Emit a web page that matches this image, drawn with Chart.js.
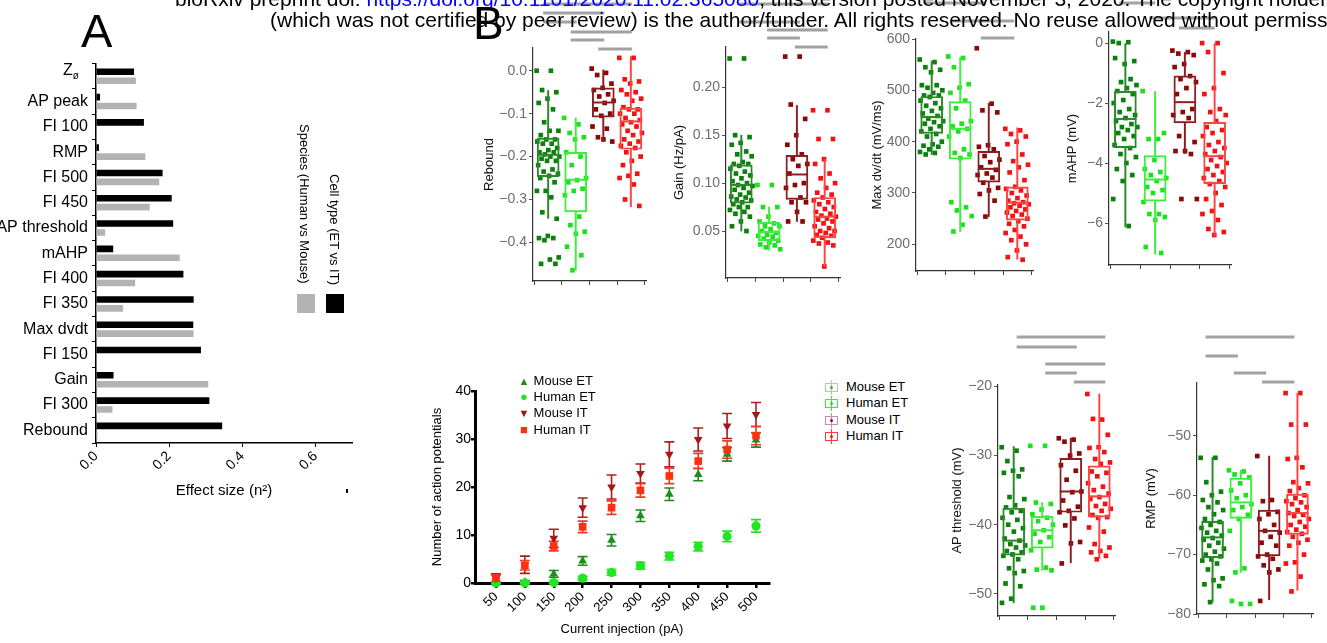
<!DOCTYPE html>
<html>
<head>
<meta charset="utf-8">
<script src="https://cdn.jsdelivr.net/npm/chart.js@4.4.1/dist/chart.umd.min.js"></script>
<style>
  body { margin: 0; background: #fff; }
  #wrap { position: relative; width: 1327px; height: 643px; overflow: hidden; font-family: "Liberation Sans", Arial, sans-serif; color: #000; }
  canvas { position: absolute; }
  .txt { position: absolute; white-space: nowrap; z-index: 5; }
  .hdr { font-size: 21px; line-height: 21px; }
  .lg { position: absolute; font-size: 13px; line-height: 16px; white-space: nowrap; }
  .sym { display: inline-block; width: 12px; text-align: center; margin-right: 0; font-size: 11px; }
  .bx { position: absolute; width: 11px; height: 7px; border: 1px solid; }
  .bx i { position: absolute; left: 4px; top: 2px; width: 3px; height: 3px; border-radius: 2px; }
  .bx b { position: absolute; left: 5px; top: -4px; width: 1px; height: 15px; }
</style>
</head>
<body>
<div id="wrap">
  <div class="txt hdr" style="top:-12px;left:175px">bioRxiv preprint doi: <span style="color:#0000ff">https://doi.org/10.1101/2020.11.02.365080</span>, this version posted November 3, 2020. The copyright holder for this preprint</div>
  <div class="txt hdr" style="top:9px;left:270px">(which was not certified by peer review) is the author/funder. All rights reserved. No reuse allowed without permission.</div>
  <div class="txt" style="left:81px;top:7px;font-size:47px;line-height:47px">A</div>
  <div class="txt" style="left:473px;top:0px;font-size:46px;line-height:46px">B</div>

  <div class="txt" style="left:63px;top:61px;font-size:16px;line-height:18px">Z<sub style="font-size:10px">ø</sub></div>
  <div class="txt" style="left:297px;top:124px;font-size:13px;writing-mode:vertical-rl">Species (Human vs Mouse)</div>
  <div class="txt" style="left:327px;top:174px;font-size:13px;writing-mode:vertical-rl">Cell type (ET vs IT)</div>
  <div class="txt" style="left:297px;top:294px;width:18px;height:19px;background:#b3b3b3"></div>
  <div class="txt" style="left:326px;top:294px;width:18px;height:19px;background:#000"></div>
  <div class="txt" style="left:346px;top:489px;width:2px;height:4px;background:#000"></div>

  <div class="lg" style="left:518px;top:373px"><span class="sym" style="color:#1e8c1e">&#9650;</span> Mouse ET</div>
  <div class="lg" style="left:518px;top:389px"><span class="sym" style="color:#22e622;font-size:13px">&#9679;</span> Human ET</div>
  <div class="lg" style="left:518px;top:405px"><span class="sym" style="color:#a01818">&#9660;</span> Mouse IT</div>
  <div class="lg" style="left:518px;top:422px"><span class="sym" style="color:#ff3010;font-size:13px">&#9632;</span> Human IT</div>

  <div class="bx" style="left:825px;top:383px;border-color:#9fd89f"><b style="background:#9fd89f"></b><i style="background:#3aa83a"></i></div>
  <div class="bx" style="left:825px;top:399px;border-color:#33ee33"><b style="background:#33ee33"></b><i style="background:#22dd22"></i></div>
  <div class="bx" style="left:825px;top:416px;border-color:#c88ab8"><b style="background:#c88ab8"></b><i style="background:#8c0a2a"></i></div>
  <div class="bx" style="left:825px;top:432px;border-color:#ff3a3a"><b style="background:#ff3a3a"></b><i style="background:#ee1010"></i></div>
  <div class="lg" style="left:846px;top:379px">Mouse ET</div>
  <div class="lg" style="left:846px;top:395px">Human ET</div>
  <div class="lg" style="left:846px;top:412px">Mouse IT</div>
  <div class="lg" style="left:846px;top:428px">Human IT</div>
</div>
<script>
Chart.defaults.font.family = "'Liberation Sans', Arial, sans-serif";
Chart.defaults.animation = false;
Chart.defaults.plugins.legend.display = false;
Chart.defaults.plugins.tooltip.enabled = false;

// ---- panel A: effect sizes ----
const effectLabels = ['Zø', 'AP peak', 'FI 100', 'RMP', 'FI 500', 'FI 450', 'AP threshold', 'mAHP',
  'FI 400', 'FI 350', 'Max dvdt', 'FI 150', 'Gain', 'FI 300', 'Rebound'];
const cellTypeEffect = [0.104, 0.011, 0.131, 0.008, 0.182, 0.207, 0.211, 0.047, 0.239, 0.267, 0.266, 0.287, 0.048, 0.310, 0.345];
const speciesEffect = [0.109, 0.111, 0, 0.135, 0.173, 0.147, 0.025, 0.229, 0.107, 0.074, 0.267, 0, 0.307, 0.045, 0.004];
const effectTicks = [0, 0.2, 0.4, 0.6];

// ---- box plots: groups Mouse ET, Human ET, Mouse IT, Human IT ----
const groupNames = ['Mouse ET', 'Human ET', 'Mouse IT', 'Human IT'];
const pointColors = ['#0b800b', '#1fe01f', '#8a0808', '#f21212'];
const boxColors = ['#2a8a2a', '#3cef3c', '#8e1e1e', '#ff4444'];

// stats: [lower whisker, q1, median, q3, upper whisker]
const reboundStats = [[-0.344, -0.247, -0.196, -0.157, -0.046], [-0.465, -0.329, -0.254, -0.19, -0.11],
  [-0.165, -0.108, -0.074, -0.04, 0.002], [-0.317, -0.183, -0.118, -0.087, 0.033]];
const reboundPts = [
  [0.0, 0.0, -0.045, -0.05, -0.065, -0.075, -0.09, -0.12, -0.14, -0.14, -0.15, -0.16, -0.16, -0.165, -0.17, -0.17, -0.18, -0.185, -0.19, -0.19, -0.195, -0.2, -0.2, -0.205, -0.21, -0.21, -0.22, -0.23, -0.235, -0.24, -0.245, -0.25, -0.26, -0.28, -0.28, -0.295, -0.33, -0.345, -0.385, -0.39, -0.39, -0.395, -0.435, -0.44, -0.45, -0.45],
  [-0.11, -0.125, -0.145, -0.155, -0.16, -0.19, -0.2, -0.22, -0.25, -0.255, -0.26, -0.275, -0.28, -0.29, -0.34, -0.36, -0.375, -0.38, -0.41, -0.43, -0.465],
  [0.005, -0.005, -0.01, -0.03, -0.04, -0.045, -0.055, -0.06, -0.07, -0.075, -0.09, -0.1, -0.105, -0.13, -0.135, -0.155, -0.165, -0.16],
  [0.03, 0.03, -0.02, -0.025, -0.03, -0.045, -0.05, -0.055, -0.065, -0.07, -0.085, -0.09, -0.09, -0.1, -0.1, -0.11, -0.115, -0.12, -0.125, -0.13, -0.14, -0.145, -0.15, -0.16, -0.165, -0.17, -0.175, -0.18, -0.19, -0.2, -0.21, -0.22, -0.24, -0.245, -0.25, -0.265, -0.3, -0.315]
];
const reboundTicks = [0, -0.1, -0.2, -0.3, -0.4];
const reboundSig = [[0, 3], [0, 2], [0, 1], [1, 3], [1, 2], [2, 3]];

const gainStats = [[0.050, 0.079, 0.098, 0.119, 0.150], [0.030, 0.040, 0.049, 0.059, 0.075],
  [0.060, 0.083, 0.109, 0.129, 0.181], [0.013, 0.043, 0.065, 0.085, 0.125]];
const gainPts = [
  [0.23, 0.23, 0.15, 0.148, 0.142, 0.14, 0.133, 0.13, 0.128, 0.122, 0.12, 0.12, 0.118, 0.115, 0.112, 0.11, 0.108, 0.105, 0.102, 0.1, 0.098, 0.097, 0.095, 0.093, 0.09, 0.088, 0.086, 0.085, 0.083, 0.082, 0.08, 0.078, 0.075, 0.075, 0.072, 0.07, 0.068, 0.065, 0.06, 0.055, 0.05],
  [0.098, 0.098, 0.075, 0.075, 0.065, 0.06, 0.058, 0.055, 0.055, 0.052, 0.05, 0.048, 0.046, 0.045, 0.044, 0.042, 0.04, 0.038, 0.036, 0.035, 0.033, 0.031],
  [0.232, 0.232, 0.182, 0.167, 0.15, 0.14, 0.13, 0.125, 0.12, 0.118, 0.11, 0.1, 0.098, 0.095, 0.085, 0.08, 0.08, 0.07, 0.06, 0.06],
  [0.176, 0.176, 0.146, 0.146, 0.125, 0.12, 0.11, 0.105, 0.1, 0.095, 0.09, 0.088, 0.085, 0.082, 0.08, 0.078, 0.075, 0.073, 0.07, 0.068, 0.066, 0.065, 0.063, 0.062, 0.06, 0.058, 0.055, 0.053, 0.05, 0.05, 0.048, 0.046, 0.045, 0.043, 0.04, 0.038, 0.037, 0.035, 0.013]
];
const gainTicks = [0.05, 0.10, 0.15, 0.20];
const gainSig = [[0, 3], [0, 2], [1, 3], [1, 2], [2, 3]];

const dvdtStats = [[375, 416, 448, 488, 557], [225, 366, 425, 478, 564], [254, 321, 347, 381, 475], [171, 247, 281, 312, 427]];
const dvdtPts = [
  [560, 555, 545, 540, 535, 510, 510, 505, 500, 495, 490, 490, 487, 480, 475, 470, 465, 460, 455, 450, 445, 440, 438, 435, 430, 425, 420, 415, 410, 400, 395, 392, 390, 385, 380, 378, 375],
  [566, 563, 545, 512, 505, 495, 480, 465, 440, 435, 430, 425, 420, 410, 385, 378, 375, 368, 282, 272, 266, 255, 238, 225],
  [582, 474, 461, 457, 393, 390, 385, 372, 365, 360, 350, 345, 338, 335, 330, 320, 310, 305, 298, 285, 254],
  [425, 422, 415, 410, 400, 395, 375, 362, 355, 350, 340, 325, 312, 308, 305, 300, 295, 290, 285, 282, 280, 278, 275, 272, 268, 265, 262, 258, 255, 250, 245, 240, 235, 228, 222, 215, 208, 200, 188, 175, 170]
];
const dvdtTicks = [200, 300, 400, 500, 600];
const dvdtSig = [[0, 2], [1, 3], [2, 3]];

const mahpStats = [[-6.13, -3.49, -2.53, -1.61, 0], [-7.04, -5.27, -4.55, -3.75, -1.61],
  [-3.68, -2.66, -1.97, -1.09, -0.31], [-6.43, -4.69, -3.77, -2.64, 0]];
const mahpPts = [
  [0.05, 0.03, 0.0, -0.6, -0.7, -0.5, -1.2, -1.3, -1.4, -1.5, -1.6, -1.7, -1.9, -2.0, -2.2, -2.3, -2.4, -2.5, -2.6, -2.7, -2.8, -2.8, -2.9, -3.0, -3.1, -3.2, -3.4, -3.5, -3.7, -3.8, -4.0, -4.2, -4.4, -4.6, -5.2, -6.1],
  [-1.6, -3.2, -3.2, -3.0, -3.9, -4.2, -4.3, -4.4, -4.5, -4.6, -4.8, -4.9, -5.0, -5.3, -5.7, -5.7, -5.8, -5.9, -6.8, -7.0],
  [-0.25, -0.3, -0.35, -0.4, -0.7, -0.8, -1.1, -1.2, -1.3, -1.5, -1.7, -2.2, -2.3, -2.4, -2.5, -3.1, -3.3, -3.6, -3.6, -3.7, -5.2, -5.2],
  [0.0, 0.0, -0.3, -1.0, -1.5, -1.7, -2.2, -2.3, -2.4, -2.6, -2.8, -2.9, -3.0, -3.1, -3.3, -3.4, -3.5, -3.6, -3.7, -3.8, -3.9, -4.0, -4.1, -4.2, -4.3, -4.4, -4.5, -4.6, -4.7, -4.8, -5.0, -5.2, -5.4, -5.6, -5.7, -5.9, -6.2, -6.3, -6.4]
];
const mahpTicks = [0, -2, -4, -6];
const mahpSig = [[0, 1], [1, 3], [2, 3]];

const apThrStats = [[-51.3, -44.4, -42.3, -37.6, -28.7], [-46.6, -43.4, -40.8, -38.8, -36.8],
  [-45.5, -38.2, -35.2, -30.4, -27.5], [-44.9, -38.9, -35.9, -31.5, -21.1]];
const apThrPts = [
  [-28.8, -29.3, -30.8, -32.0, -32.2, -32.5, -33.0, -36.0, -36.3, -37.2, -37.5, -38.0, -38.2, -39.0, -39.3, -40.0, -40.5, -41.0, -42.0, -42.3, -42.8, -43.0, -43.3, -43.8, -44.0, -44.3, -44.5, -45.0, -46.3, -46.7, -47.0, -48.5, -48.9, -50.7, -51.3],
  [-28.6, -28.6, -36.8, -37.0, -37.8, -38.5, -39.0, -39.5, -40.0, -40.8, -41.3, -41.8, -42.5, -43.7, -46.2, -46.5, -46.6, -52.0, -52.0],
  [-27.5, -27.7, -28.0, -29.7, -30.0, -31.4, -32.2, -33.5, -35.2, -35.3, -36.5, -37.4, -38.0, -38.2, -39.1, -40.1, -42.5, -42.7, -45.6],
  [-21.1, -24.8, -24.7, -27.0, -28.8, -28.9, -29.5, -30.5, -31.0, -31.2, -32.3, -32.5, -33.0, -34.0, -34.5, -35.0, -35.5, -36.0, -36.3, -37.0, -37.3, -37.7, -38.0, -38.6, -38.9, -39.0, -40.4, -41.0, -42.8, -43.3, -43.8, -44.0, -44.5, -45.0]
];
const apThrTicks = [-20, -30, -40, -50];
const apThrSig = [[0, 3], [0, 2], [1, 3], [1, 2], [2, 3]];

const rmpStats = [[-78.0, -70.5, -67.1, -64.4, -53.6], [-73.0, -63.9, -61.2, -57.1, -55.8],
  [-77.6, -70.2, -66.0, -62.5, -53.4], [-76.0, -66.6, -63.0, -59.8, -42.8]];
const rmpPts = [
  [-53.7, -53.7, -57.8, -59.4, -60.0, -60.8, -61.2, -62.0, -62.5, -63.2, -64.0, -64.5, -65.0, -65.5, -66.0, -66.3, -66.8, -67.2, -67.5, -68.0, -68.5, -69.0, -69.5, -70.0, -70.3, -70.8, -71.0, -71.5, -72.5, -74.0, -74.3, -75.0, -75.3, -78.0],
  [-55.8, -56.0, -56.5, -57.0, -58.0, -59.2, -60.0, -60.5, -61.5, -62.0, -62.5, -63.3, -64.0, -66.0, -72.3, -73.0, -78.3, -78.3, -77.8],
  [-53.4, -60.8, -61.0, -62.8, -63.2, -64.0, -65.0, -66.0, -66.3, -67.0, -68.0, -68.5, -70.0, -70.3, -70.7, -71.8, -72.5, -73.0, -77.8],
  [-42.8, -42.8, -48.1, -48.1, -53.7, -53.9, -55.3, -57.8, -58.0, -58.8, -59.3, -60.0, -60.5, -61.0, -61.2, -61.5, -62.0, -62.5, -63.0, -63.3, -63.5, -64.0, -64.5, -65.0, -65.3, -65.8, -66.2, -66.5, -67.0, -67.5, -68.0, -68.5, -70.0, -71.3, -71.5, -73.7, -76.2]
];
const rmpTicks = [-50, -60, -70, -80];
const rmpSig = [[0, 3], [0, 1], [1, 2], [2, 3]];

// ---- firing curve ----
const currentSteps = [50, 100, 150, 200, 250, 300, 350, 400, 450, 500];
const mouseEtAP = [0, 0.2, 1.9, 4.6, 8.9, 14.0, 18.5, 22.6, 26.8, 29.8];
const mouseEtErr = [0.1, 0.3, 0.7, 0.9, 1.2, 1.2, 1.3, 1.3, 1.4, 1.5];
const humanEtAP = [0, 0, 0.1, 1.0, 2.2, 3.6, 5.6, 7.6, 9.7, 11.9];
const humanEtErr = [0.1, 0.1, 0.2, 0.4, 0.6, 0.7, 0.8, 0.9, 1.1, 1.3];
const mouseItAP = [1.0, 3.8, 9.3, 15.7, 20.0, 22.8, 26.8, 29.9, 32.7, 35.1];
const mouseItErr = [0.9, 1.8, 1.9, 2.0, 2.5, 2.0, 2.6, 2.4, 2.6, 2.5];
const humanItAP = [1.0, 3.7, 7.7, 11.7, 15.7, 19.3, 22.3, 25.4, 27.8, 30.7];
const humanItErr = [0.7, 1.0, 1.0, 1.2, 1.4, 1.4, 1.6, 1.6, 1.8, 1.9];
const apTicks = [0, 10, 20, 30, 40];

const wrap = document.getElementById('wrap');
function addCanvas(left, top, w, h) {
  const cv = document.createElement('canvas');
  cv.width = w; cv.height = h;
  cv.style.left = left + 'px';
  cv.style.top = top + 'px';
  wrap.insertBefore(cv, wrap.firstChild);
  return cv;
}
const fmt = (v, dec) => v.toFixed(dec).replace('-', '\u2212');
const jitter = i => (((i * 0.6180339887) % 1) - 0.5) * 0.84;

// ---- A ----
new Chart(addCanvas(0, 50, 360, 450), {
  type: 'bar',
  data: {
    labels: effectLabels,
    datasets: [
      { label: 'Cell type (ET vs IT)', data: cellTypeEffect, backgroundColor: '#000', categoryPercentage: 0.705, barPercentage: 0.74 },
      { label: 'Species (Human vs Mouse)', data: speciesEffect, backgroundColor: '#b3b3b3', categoryPercentage: 0.705, barPercentage: 0.74 }
    ]
  },
  options: {
    indexAxis: 'y',
    responsive: false,
    layout: { padding: { top: 10, right: 8, left: 0, bottom: 0 } },
    scales: {
      x: {
        type: 'linear', min: 0, max: 0.7,
        afterBuildTicks: s => { s.ticks = effectTicks.map(v => ({ value: v })); },
        ticks: { minRotation: 45, maxRotation: 45, color: '#000', font: { size: 14 }, padding: 1, callback: v => v.toFixed(1) },
        grid: { drawOnChartArea: false, color: '#000', tickLength: 4 },
        border: { color: '#000', width: 1.5 },
        title: { display: true, text: 'Effect size (n²)', color: '#000', font: { size: 15 }, padding: 0 },
        afterFit: s => { s.height = 57; }
      },
      y: {
        ticks: { color: '#000', font: { size: 16 }, padding: 4, callback: (v, i) => i === 0 ? '' : effectLabels[i] },
        grid: { drawOnChartArea: false, color: '#000', tickLength: 4 },
        border: { color: '#000', width: 1.5 },
        afterFit: s => { s.width = 96; }
      }
    }
  }
});

// ---- B: box plots ----
const sigPlugin = {
  id: 'sigBars',
  afterDraw(chart, args, o) {
    const { ctx } = chart;
    const x = chart.scales.x;
    ctx.save();
    ctx.strokeStyle = '#a2a2a2';
    ctx.lineWidth = 3;
    o.pairs.forEach((pr, k) => {
      const y = o.levels[k] - o.top;
      ctx.beginPath();
      ctx.moveTo(x.getPixelForValue(pr[0]) + o.shift[0], y);
      ctx.lineTo(x.getPixelForValue(pr[1]) + o.shift[1], y);
      ctx.stroke();
    });
    ctx.restore();
  }
};

function boxPanel(p) {
  const yW = p.left - p.canvasLeft;
  const W = p.right - p.canvasLeft + 6;
  const H = p.bottom - p.canvasTop + 12;
  const datasets = [];
  p.points.forEach((vals, g) => {
    datasets.push({
      type: 'scatter', label: groupNames[g],
      data: vals.map((v, i) => ({ x: g + jitter(i), y: v })),
      pointStyle: 'rect', pointRadius: 3.3, backgroundColor: pointColors[g], pointBackgroundColor: pointColors[g],
      pointBorderWidth: 0, clip: false, order: 5
    });
  });
  datasets.push({ type: 'bar', data: p.stats.map((s, g) => ({ x: g, y: [s[0], s[1]] })), backgroundColor: boxColors, barThickness: 1.3, grouped: false, order: 2 });
  datasets.push({ type: 'bar', data: p.stats.map((s, g) => ({ x: g, y: [s[3], s[4]] })), backgroundColor: boxColors, barThickness: 1.3, grouped: false, order: 2 });
  datasets.push({
    type: 'bar', data: p.stats.map((s, g) => ({ x: g, y: [s[1], s[3]] })),
    backgroundColor: 'rgba(255,255,255,0)', borderColor: boxColors, borderWidth: 1.3, borderSkipped: false,
    barThickness: 22, grouped: false, order: 1
  });
  datasets.push({
    type: 'scatter', data: p.stats.map((s, g) => ({ x: g, y: s[2] })),
    pointStyle: 'line', pointRadius: 11, borderColor: boxColors, pointBorderColor: boxColors, pointBorderWidth: 2, order: 0
  });
  new Chart(addCanvas(p.canvasLeft, p.canvasTop, W, H), {
    type: 'bar',
    data: { datasets },
    options: {
      responsive: false,
      layout: { padding: { top: p.top - p.canvasTop, right: 6, bottom: 2, left: 0 } },
      plugins: { sigBars: { pairs: p.sig, levels: p.sigY, shift: p.sigShift, top: p.canvasTop } },
      scales: {
        x: {
          type: 'linear', min: -0.55, max: 3.55, offset: false,
          afterBuildTicks: s => { s.ticks = [0, 1, 2, 3].map(v => ({ value: v })); },
          ticks: { callback: () => '', padding: 0 },
          grid: { drawOnChartArea: false, color: '#444', tickLength: 4 },
          border: { color: '#333', width: 1.2 },
          afterFit: s => { s.height = 10; }
        },
        y: {
          min: p.yMin, max: p.yMax,
          afterBuildTicks: s => { s.ticks = p.ticks.map(v => ({ value: v })); },
          ticks: { color: '#6d6d6d', font: { size: 14 }, padding: 2, callback: v => fmt(v, p.dec) },
          grid: { drawOnChartArea: false, color: '#555', tickLength: 4 },
          border: { color: '#333', width: 1.2 },
          title: { display: true, text: p.title, color: '#111', font: { size: 13 }, padding: 0 },
          afterFit: s => { s.width = yW; }
        }
      }
    },
    plugins: [sigPlugin]
  });
}

boxPanel({ canvasLeft: 482, canvasTop: 0, left: 533, right: 653, top: 48, bottom: 282, yMin: -0.49, yMax: 0.053, dec: 1,
  title: 'Rebound', ticks: reboundTicks, stats: reboundStats, points: reboundPts,
  sig: reboundSig, sigY: [4, 13, 22, 32, 40, 49], sigShift: [-5, 1] });
boxPanel({ canvasLeft: 672, canvasTop: 0, left: 726, right: 847, top: 47, bottom: 279, yMin: 0.001, yMax: 0.242, dec: 2,
  title: 'Gain (Hz/pA)', ticks: gainTicks, stats: gainStats, points: gainPts,
  sig: gainSig, sigY: [4, 22, 30, 38, 47], sigShift: [-2, 3] });
boxPanel({ canvasLeft: 870, canvasTop: 0, left: 916, right: 1040, top: 39, bottom: 272, yMin: 148, yMax: 600, dec: 0,
  title: 'Max dv/dt (mV/ms)', ticks: dvdtTicks, stats: dvdtStats, points: dvdtPts,
  sig: dvdtSig, sigY: [3, 21, 38], sigShift: [-8, -3] });
boxPanel({ canvasLeft: 1065, canvasTop: 0, left: 1109, right: 1238, top: 32, bottom: 266, yMin: -7.4, yMax: 0.37, dec: 0,
  title: 'mAHP (mV)', ticks: mahpTicks, stats: mahpStats, points: mahpPts,
  sig: mahpSig, sigY: [3, 18, 28], sigShift: [-6, 0] });
boxPanel({ canvasLeft: 950, canvasTop: 320, left: 998, right: 1122, top: 385, bottom: 617, yMin: -53.2, yMax: -19.8, dec: 0,
  title: 'AP threshold (mV)', ticks: apThrTicks, stats: apThrStats, points: apThrPts,
  sig: apThrSig, sigY: [337, 347, 364, 373, 382], sigShift: [3, 6] });
boxPanel({ canvasLeft: 1144, canvasTop: 320, left: 1197, right: 1320, top: 383, bottom: 615, yMin: -80, yMax: -41.1, dec: 0,
  title: 'RMP (mV)', ticks: rmpTicks, stats: rmpStats, points: rmpPts,
  sig: rmpSig, sigY: [337, 356, 373, 382], sigShift: [-7, -3] });

// ---- B: firing curve ----
const apErrors = [humanItErr, mouseItErr, humanEtErr, mouseEtErr];
const errorBars = {
  id: 'errorBars',
  beforeDatasetsDraw(chart) {
    const { ctx } = chart;
    const x = chart.scales.x, y = chart.scales.y;
    ctx.save();
    ctx.lineWidth = 1.6;
    for (let di = chart.data.datasets.length - 1; di >= 0; di--) {
      const ds = chart.data.datasets[di];
      const err = apErrors[di];
      ctx.strokeStyle = ds.errColor;
      ds.data.forEach((pt, i) => {
        const px = x.getPixelForValue(pt.x);
        const t = y.getPixelForValue(pt.y + err[i]);
        const b = y.getPixelForValue(pt.y - err[i]);
        ctx.beginPath();
        ctx.moveTo(px, t); ctx.lineTo(px, b);
        ctx.moveTo(px - 5, t); ctx.lineTo(px + 5, t);
        ctx.moveTo(px - 5, b); ctx.lineTo(px + 5, b);
        ctx.stroke();
      });
    }
    ctx.restore();
  }
};
const toPts = arr => currentSteps.map((c, i) => ({ x: c, y: arr[i] }));

new Chart(addCanvas(430, 370, 349, 267), {
  type: 'line',
  data: {
    datasets: [
      { label: 'Human IT', data: toPts(humanItAP), pointStyle: 'rect', pointRadius: 5.4, backgroundColor: '#ff3010', pointBackgroundColor: '#ff3010', pointBorderWidth: 0, errColor: '#f03a25', showLine: false, clip: false, order: 0 },
      { label: 'Mouse IT', data: toPts(mouseItAP), pointStyle: 'triangle', pointRotation: 180, pointRadius: 5, backgroundColor: '#a01818', pointBackgroundColor: '#a01818', pointBorderWidth: 0, errColor: '#a82020', showLine: false, clip: false, order: 1 },
      { label: 'Human ET', data: toPts(humanEtAP), pointStyle: 'circle', pointRadius: 4.6, backgroundColor: '#22e622', pointBackgroundColor: '#22e622', pointBorderWidth: 0, errColor: '#22e622', showLine: false, clip: false, order: 2 },
      { label: 'Mouse ET', data: toPts(mouseEtAP), pointStyle: 'triangle', pointRadius: 5, backgroundColor: '#1e8c1e', pointBackgroundColor: '#1e8c1e', pointBorderWidth: 0, errColor: '#1e8c1e', showLine: false, clip: false, order: 3 }
    ]
  },
  options: {
    responsive: false,
    layout: { padding: { top: 21, right: 10, left: 0, bottom: 0 } },
    scales: {
      x: {
        type: 'linear', min: 13.7, max: 522.5,
        afterBuildTicks: s => { s.ticks = currentSteps.map(v => ({ value: v })); },
        ticks: { minRotation: 45, maxRotation: 45, color: '#000', font: { size: 13 }, padding: 1 },
        grid: { drawOnChartArea: false, color: '#000', lineWidth: 2.5, tickLength: 5 },
        border: { color: '#000', width: 3 },
        title: { display: true, text: 'Current injection (pA)', color: '#000', font: { size: 13 }, padding: 0 },
        afterFit: s => { s.height = 54; }
      },
      y: {
        min: 0, max: 40,
        afterBuildTicks: s => { s.ticks = apTicks.map(v => ({ value: v })); },
        ticks: { color: '#000', font: { size: 14 }, padding: 0 },
        grid: { drawOnChartArea: false, color: '#000', lineWidth: 2.5, tickLength: 4 },
        border: { color: '#000', width: 3 },
        title: { display: true, text: 'Number of action potentials', color: '#000', font: { size: 13 }, padding: 0 },
        afterFit: s => { s.width = 45; }
      }
    }
  },
  plugins: [errorBars]
});
</script>
</body>
</html>
